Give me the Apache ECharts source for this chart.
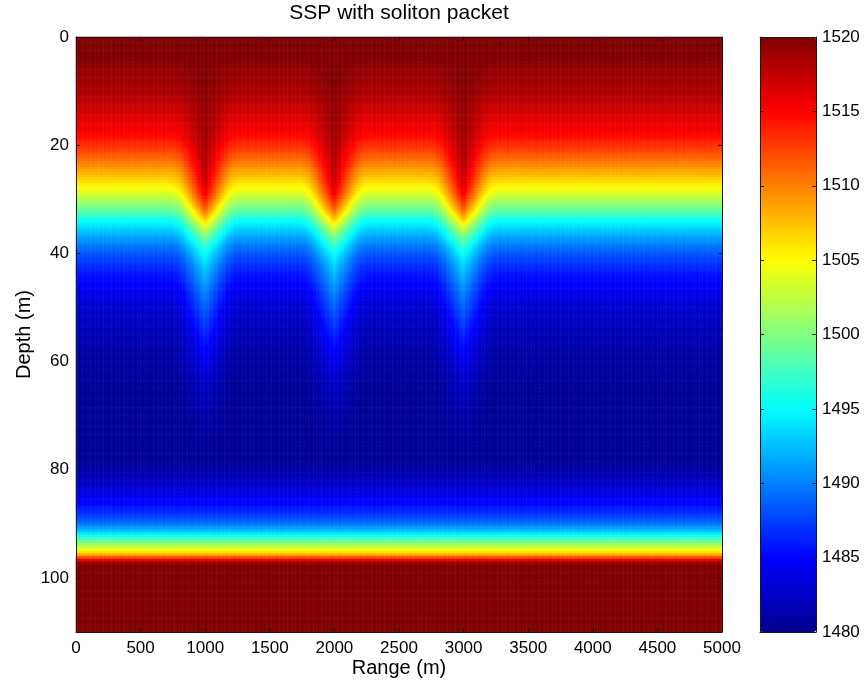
<!DOCTYPE html>
<html><head><meta charset="utf-8">
<script src="https://cdn.jsdelivr.net/npm/echarts@6/dist/echarts.min.js"></script>
<style>html,body{margin:0;padding:0;background:#fff}#c{width:865px;height:683px}</style>
</head><body><div id="c"></div>
<script>
// ---- chart text ----
const titleText = 'SSP with soliton packet';
const xName = 'Range (m)';
const yName = 'Depth (m)';

// ---- tick labels ----
const rangeTicks = [0, 500, 1000, 1500, 2000, 2500, 3000, 3500, 4000, 4500, 5000];
const depthTicks = [0, 20, 40, 60, 80, 100];
const depthMax = 110;
const speedTicks = [1480, 1485, 1490, 1495, 1500, 1505, 1510, 1515, 1520];

// ---- grid resolution of the field ----
const depthStep = 0.5;   // m per row
const rangeStep = 12.5;  // m per column

// background sound speed (m/s) away from the solitons, rows of 0.5 m from the surface
const backgroundSSP = [
  1520, 1520, 1520, 1520, 1520, 1520, 1520, 1520,
  1519.9, 1519.7, 1519.5, 1519.3, 1519.15, 1519.05, 1518.95, 1518.85, 1518.75, 1518.65, 1518.55, 1518.45,
  1518.3, 1518.1, 1517.85, 1517.6, 1517.4, 1517.15, 1516.95, 1516.7, 1516.5, 1516.3, 1516.1, 1515.9,
  1515.7, 1515.5, 1515.3, 1515.1, 1514.8, 1514.4, 1514, 1513.5, 1513.1, 1512.6, 1512.2, 1511.7,
  1511.2, 1510.7, 1510.1, 1509.6, 1509, 1508.5, 1507.9, 1507.4, 1506.8, 1506.3, 1505.7, 1505.1,
  1504.5, 1503.8, 1503.1, 1502.4, 1501.6, 1500.8, 1500, 1499.2, 1498.4, 1497.5, 1496.7, 1495.8,
  1495, 1494.3, 1493.6, 1492.9, 1492.3, 1491.7, 1491.1, 1490.6, 1490, 1489.5, 1489.1, 1488.6,
  1488.2, 1487.8, 1487.4, 1487.1, 1486.8, 1486.5, 1486.1, 1485.8, 1485.6, 1485.3, 1485.1, 1484.8,
  1484.6, 1484.3, 1484.1, 1483.9, 1483.7, 1483.5, 1483.3, 1483.1, 1482.9, 1482.8, 1482.6, 1482.5,
  1482.3, 1482.2, 1482.1, 1481.9, 1481.8, 1481.7, 1481.6, 1481.5, 1481.4, 1481.3, 1481.2, 1481.1,
  1481, 1480.95, 1480.9, 1480.85, 1480.8, 1480.75, 1480.7, 1480.65, 1480.6, 1480.55, 1480.5, 1480.45,
  1480.4, 1480.4, 1480.35, 1480.3,
  1480.3, 1480.3, 1480.3, 1480.3, 1480.3, 1480.3, 1480.3, 1480.3, 1480.3, 1480.3, 1480.3, 1480.3,
  1480.3, 1480.3, 1480.3, 1480.3, 1480.3, 1480.3, 1480.3, 1480.3, 1480.3, 1480.3, 1480.3, 1480.3,
  1480.5, 1480.6, 1480.75, 1480.9, 1481.1, 1481.4, 1481.6, 1481.9, 1482.3, 1482.6, 1483, 1483.3,
  1483.7, 1484.1, 1484.5, 1484.8, 1485.1, 1485.5, 1486, 1486.5, 1487, 1487.6, 1488.3, 1489.1,
  1490, 1491.1, 1492.4, 1494, 1495.6, 1497.3, 1499, 1500.8, 1502.6, 1504.3, 1506, 1508.5, 1512, 1516, 1519.2,
  1520, 1520, 1520, 1520, 1520, 1520, 1520, 1520, 1520, 1520, 1520, 1520,
  1520, 1520, 1520, 1520, 1520, 1520, 1520, 1520, 1520, 1520, 1520, 1520, 1520
];

// sound speed (m/s) at a soliton centre, rows of 0.5 m, top 80 m (deeper = background)
const centerSSP = [
  1520, 1520, 1520, 1520, 1520, 1520, 1520, 1520, 1520, 1520, 1520, 1520, 1520, 1520, 1520, 1520,
  1519.97, 1519.92, 1519.88, 1519.83, 1519.76, 1519.69, 1519.61, 1519.54, 1519.46, 1519.39, 1519.31, 1519.24,
  1519.17, 1519.12, 1519.07, 1519.02, 1518.97, 1518.92, 1518.87, 1518.82, 1518.77, 1518.72, 1518.67, 1518.62,
  1518.57, 1518.52, 1518.47, 1518.42, 1518.35, 1518.25, 1518.15, 1518.05, 1517.9, 1517.75, 1517.6, 1517.45,
  1517.3, 1517.1, 1516.85, 1516.55, 1516.2, 1515.8, 1515.3, 1514.8, 1514.1, 1513.4, 1512.5, 1511.7,
  1510.7, 1509.7, 1508.6, 1507.5, 1506.2, 1504.8, 1503.6, 1502.5, 1501.5, 1500.5, 1499.6, 1498.7,
  1497.9, 1497.2, 1496.5, 1495.9, 1495.3, 1494.8, 1494.4, 1493.9, 1493.5, 1493.2, 1492.8, 1492.5,
  1492.2, 1491.9, 1491.6, 1491.3, 1491, 1490.7, 1490.4, 1490.1, 1489.9, 1489.6, 1489.4, 1489.1,
  1488.9, 1488.6, 1488.4, 1488.1, 1487.9, 1487.6, 1487.4, 1487.1, 1486.9, 1486.6, 1486.4, 1486.1,
  1485.9, 1485.7, 1485.4, 1485.2, 1485, 1484.8, 1484.5, 1484.3, 1484.1, 1483.9, 1483.7, 1483.5,
  1483.3, 1483.1, 1482.9, 1482.7, 1482.6, 1482.4, 1482.3, 1482.1, 1482, 1481.9, 1481.8, 1481.7,
  1481.6, 1481.5, 1481.4, 1481.3, 1481.2, 1481.1, 1481, 1480.95, 1480.9, 1480.8, 1480.7, 1480.65,
  1480.6, 1480.55, 1480.5, 1480.45, 1480.4, 1480.4, 1480.35, 1480.35, 1480.5, 1480.6, 1480.75, 1480.9
];

// soliton centres (m) and horizontal weight per 12.5 m column away from a centre
const solitonRanges = [1000, 2000, 3000];
const solitonWeight = [0.97, 0.91, 0.84, 0.78, 0.72, 0.66, 0.6, 0.54, 0.48, 0.42, 0.36, 0.3, 0.245,
  0.195, 0.15, 0.11, 0.078, 0.052, 0.032, 0.018, 0.009, 0.004];

// jet colormap
const jetColors = ['#00008f', '#0000ff', '#0080ff', '#00ffff', '#80ff80', '#ffff00', '#ff8000', '#ff0000', '#800000'];

// ---- build heatmap cells ----
const rMin = rangeTicks[0], rMax = rangeTicks[rangeTicks.length - 1];
const nCols = Math.round((rMax - rMin) / rangeStep);
const nRows = backgroundSSP.length;
const colCats = Array.from({length: nCols}, (_, j) => j);
const rowCats = Array.from({length: nRows}, (_, i) => i);
const cells = [];
for (let j = 0; j < nCols; j++) {
  const r = rMin + (j + 0.5) * rangeStep;
  let w = 0;
  solitonRanges.forEach(c => {
    const k = Math.floor(Math.abs(r - c) / rangeStep);
    if (k < solitonWeight.length) w = Math.max(w, solitonWeight[k]);
  });
  for (let i = 0; i < nRows; i++) {
    const bg = backgroundSSP[i];
    const ctr = i < centerSSP.length ? centerSSP[i] : bg;
    cells.push([j, i, Math.round((bg + (ctr - bg) * w) * 100) / 100]);
  }
}

const font = '"Liberation Sans", Arial, Helvetica, sans-serif';
const tickFs = 17, nameFs = 20;
const lineCol = '#1a1a1a';
const sMin = speedTicks[0], sMax = speedTicks[speedTicks.length - 1];
const plain = v => String(v);

const chart = echarts.init(document.getElementById('c'), null, {renderer: 'canvas'});
chart.setOption({
  animation: false,
  backgroundColor: '#fff',
  title: {
    text: titleText, left: 399, top: 3, padding: 0, textAlign: 'center',
    textStyle: {fontFamily: font, fontSize: 21, fontWeight: 'normal', color: '#000'}
  },
  grid: [
    {left: 76, top: 37, width: 646, height: 595},
    {left: 760, top: 37, width: 56, height: 595}
  ],
  xAxis: [
    {type: 'category', gridIndex: 0, data: colCats, show: false},
    {type: 'value', gridIndex: 0, position: 'bottom', min: rMin, max: rMax, interval: rangeTicks[1] - rangeTicks[0], z: 10,
      name: xName, nameLocation: 'middle', nameGap: 26, nameMoveOverlap: false,
      nameTextStyle: {fontFamily: font, fontSize: nameFs, color: '#000'},
      axisLine: {show: true, onZero: false, lineStyle: {color: lineCol, width: 1}},
      axisTick: {show: true, inside: true, length: 4, lineStyle: {color: lineCol}},
      axisLabel: {fontFamily: font, fontSize: tickFs, color: '#000', margin: 8, formatter: plain},
      splitLine: {show: false}},
    {type: 'value', gridIndex: 0, position: 'top', min: rMin, max: rMax, interval: rangeTicks[1] - rangeTicks[0], z: 10,
      axisLine: {show: true, onZero: false, lineStyle: {color: lineCol, width: 1}},
      axisTick: {show: true, inside: true, length: 4, lineStyle: {color: lineCol}},
      axisLabel: {show: false}, splitLine: {show: false}},
    {type: 'value', gridIndex: 1, position: 'bottom', min: 0, max: 1, z: 10,
      axisLine: {show: true, onZero: false, lineStyle: {color: lineCol, width: 1}},
      axisTick: {show: false}, axisLabel: {show: false}, splitLine: {show: false}},
    {type: 'value', gridIndex: 1, position: 'top', min: 0, max: 1, z: 10,
      axisLine: {show: true, onZero: false, lineStyle: {color: lineCol, width: 1}},
      axisTick: {show: false}, axisLabel: {show: false}, splitLine: {show: false}}
  ],
  yAxis: [
    {type: 'category', gridIndex: 0, data: rowCats, inverse: true, show: false},
    {type: 'value', gridIndex: 0, position: 'left', inverse: true, min: depthTicks[0], max: depthMax,
      interval: depthTicks[1] - depthTicks[0], z: 10,
      name: yName, nameLocation: 'middle', nameGap: 42, nameMoveOverlap: false,
      nameTextStyle: {fontFamily: font, fontSize: nameFs, color: '#000'},
      axisLine: {show: true, onZero: false, lineStyle: {color: lineCol, width: 1}},
      axisTick: {show: true, inside: true, length: 4, lineStyle: {color: lineCol}},
      axisLabel: {fontFamily: font, fontSize: tickFs, color: '#000', margin: 7, showMaxLabel: false, formatter: plain},
      splitLine: {show: false}},
    {type: 'value', gridIndex: 0, position: 'right', inverse: true, min: depthTicks[0], max: depthMax,
      interval: depthTicks[1] - depthTicks[0], z: 10,
      axisLine: {show: true, onZero: false, lineStyle: {color: lineCol, width: 1}},
      axisTick: {show: true, inside: true, length: 4, lineStyle: {color: lineCol}},
      axisLabel: {show: false}, splitLine: {show: false}},
    {type: 'value', gridIndex: 1, position: 'right', min: sMin, max: sMax, interval: speedTicks[1] - speedTicks[0], z: 10,
      axisLine: {show: true, onZero: false, lineStyle: {color: lineCol, width: 1}},
      axisTick: {show: true, inside: true, length: 4, lineStyle: {color: lineCol}},
      axisLabel: {fontFamily: font, fontSize: tickFs, color: '#000', margin: 6, formatter: plain},
      splitLine: {show: false}},
    {type: 'value', gridIndex: 1, position: 'left', min: sMin, max: sMax, interval: speedTicks[1] - speedTicks[0], z: 10,
      axisLine: {show: true, onZero: false, lineStyle: {color: lineCol, width: 1}},
      axisTick: {show: true, inside: true, length: 4, lineStyle: {color: lineCol}},
      axisLabel: {show: false}, splitLine: {show: false}}
  ],
  visualMap: {
    type: 'continuous', seriesIndex: 0, min: sMin, max: sMax,
    calculable: false, orient: 'vertical', left: 760, top: 37, padding: 0,
    itemWidth: 56, itemHeight: 595, text: ['', ''], showLabel: false, hoverLink: false,
    inRange: {color: jetColors}
  },
  series: [{
    type: 'heatmap', xAxisIndex: 0, yAxisIndex: 0, data: cells,
    progressive: 0, emphasis: {disabled: true}, itemStyle: {borderWidth: 0}
  }]
});
</script>
</body></html>
